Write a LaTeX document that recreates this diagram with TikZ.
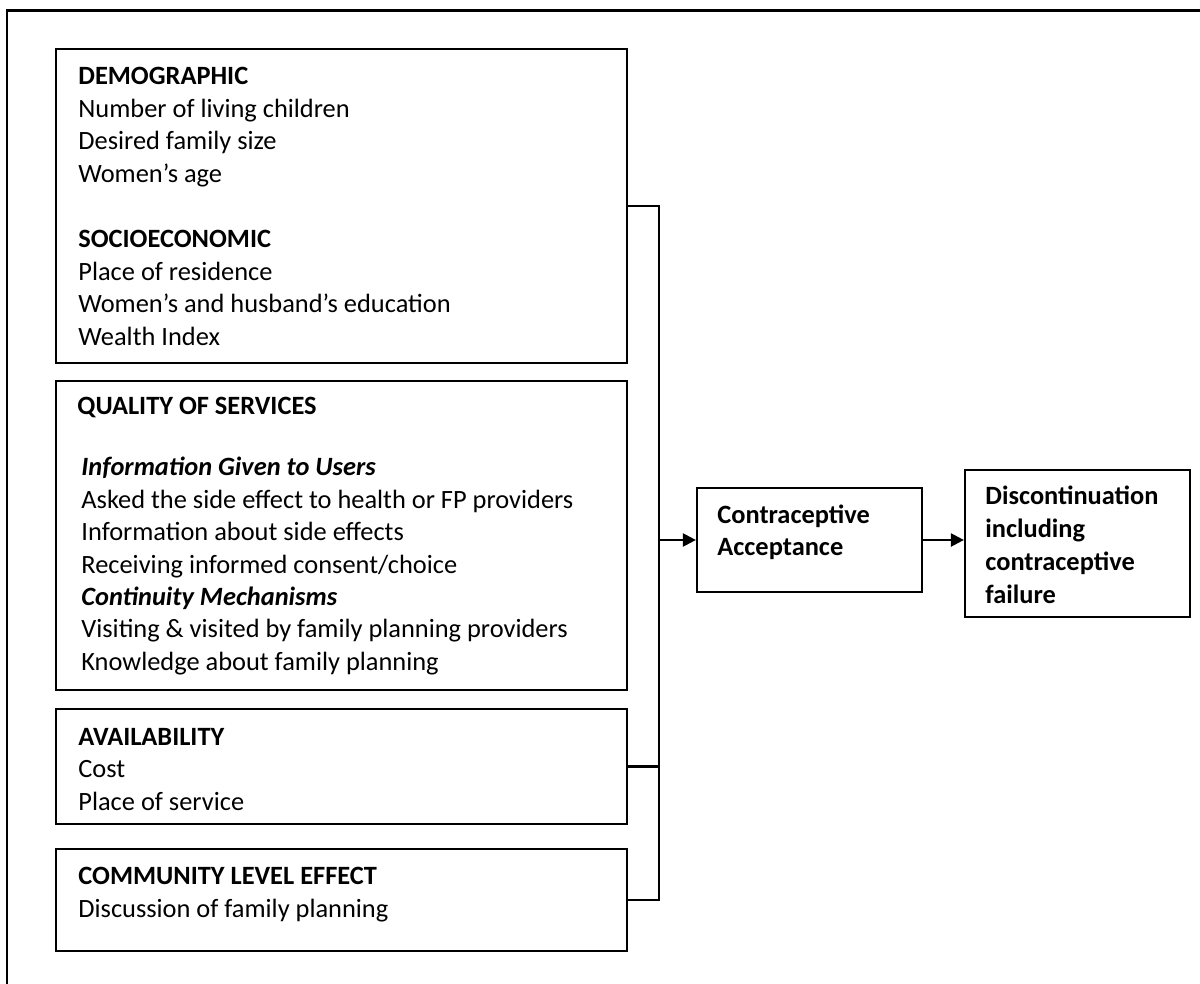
\documentclass[tikz,border=0pt]{standalone}
\usepackage{fontspec}
\setmainfont{Carlito}
\usetikzlibrary{arrows.meta,fit}
\tikzset{
  box/.style={draw, line width=1.1pt, inner sep=0pt, rectangle},
  txt/.style={anchor=base west, inner sep=0pt, font=\fontsize{13.2}{16}\selectfont},
  hd/.style={txt, font=\fontsize{13.2}{16}\selectfont\bfseries},
  sub/.style={txt, font=\fontsize{13.2}{16}\selectfont\bfseries\itshape},
  conn/.style={line width=1.1pt},
  arr/.style={line width=1.1pt, -{Triangle[length=6.5pt,width=6.5pt]}},
}
\begin{document}
\begin{tikzpicture}[x=0.5pt,y=-0.5pt]
\useasboundingbox (0,0) rectangle (1200,984);
% outer frame (only top and left edges are visible)
\coordinate (fbl) at (7,990);
\coordinate (ftl) at (7,10.5);
\coordinate (ftr) at (1205,10.5);
\draw[line width=1.1pt] (fbl) -- (ftl) -- (ftr);

% boxes
\node[box, fit={(56,49) (627,363)}] (b1) {};
\node[box, fit={(56,381) (627,690)}] (b2) {};
\node[box, fit={(56,709) (627,824)}] (b3) {};
\node[box, fit={(56,849) (627,951)}] (b4) {};
\node[box, fit={(697,488) (922,592)}] (ca) {};
\node[box, fit={(965,470) (1190,617)}] (dc) {};

% box 1 text
\node[hd]  (t11) at (78,85)  {DEMOGRAPHIC};
\node[txt] (t12) at (78,118) {Number of living children};
\node[txt] (t13) at (78,150) {Desired family size};
\node[txt] (t14) at (78,183) {Women’s age};
\node[hd]  (t15) at (78,248) {SOCIOECONOMIC};
\node[txt] (t16) at (78,281) {Place of residence};
\node[txt] (t17) at (78,313) {Women’s and husband’s education};
\node[txt] (t18) at (78,345) {Wealth Index};

% box 2 text
\node[hd]  (t21) at (77,415) {QUALITY OF SERVICES};
\node[sub] (t22) at (81,475) {Information Given to Users};
\node[txt] (t23) at (81,508) {Asked the side effect to health or FP providers};
\node[txt] (t24) at (81,540) {Information about side effects};
\node[txt] (t25) at (81,573) {Receiving informed consent/choice};
\node[sub] (t26) at (81,605) {Continuity Mechanisms};
\node[txt] (t27) at (81,637) {Visiting \& visited by family planning providers};
\node[txt] (t28) at (81,670) {Knowledge about family planning};

% box 3 text
\node[hd]  (t31) at (78,745) {AVAILABILITY};
\node[txt] (t32) at (78,777) {Cost};
\node[txt] (t33) at (78,810) {Place of service};

% box 4 text
\node[hd]  (t41) at (78,884) {COMMUNITY LEVEL EFFECT};
\node[txt] (t42) at (78,917) {Discussion of family planning};

% contraceptive acceptance
\node[hd] (c1) at (717,523) {Contraceptive};
\node[hd] (c2) at (717,555) {Acceptance};

% discontinuation
\node[hd] (d1) at (985,504) {Discontinuation};
\node[hd] (d2) at (985,537) {including};
\node[hd] (d3) at (985,570) {contraceptive};
\node[hd] (d4) at (985,603) {failure};

% connectors
\coordinate (bt) at (659,206);
\coordinate (bb) at (659,900);
\draw[conn] (b1.east |- bt) -- (bt) -- (bb) -- (b4.east |- bb);
\draw[conn] (b3.east) -- (b3.east -| bt);
\draw[arr] (bt |- ca.west) -- (ca.west);
\draw[arr] (ca.east) -- (ca.east -| dc.west);
\end{tikzpicture}
\end{document}
